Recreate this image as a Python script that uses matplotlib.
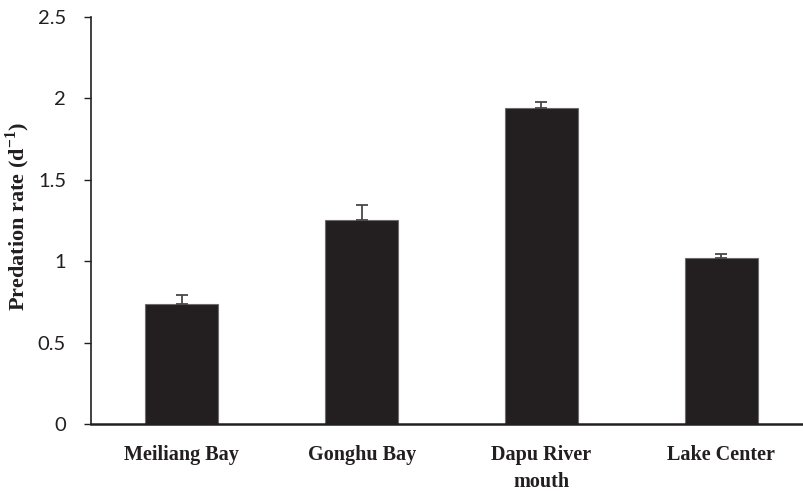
import matplotlib.pyplot as plt

plt.rcParams["mathtext.fontset"] = "custom"
plt.rcParams["mathtext.rm"] = "Liberation Serif:bold"
plt.rcParams["mathtext.bf"] = "Liberation Serif:bold"

sites = ["Meiliang Bay", "Gonghu Bay", "Dapu River\nmouth", "Lake Center"]
predation = [0.735, 1.25, 1.94, 1.017]
errors = [0.06, 0.094, 0.037, 0.025]
yticks = [0, 0.5, 1, 1.5, 2, 2.5]
ytick_labels = ["0", "0.5", "1", "1.5", "2", "2.5"]

fig = plt.figure(figsize=(8.04, 4.91), dpi=100)
ax = fig.add_axes([0.1132, 0.1365, 0.8868, 0.8289])

x = range(len(sites))
ax.bar(x, predation, width=0.406, color="#231f20", edgecolor="#6e6b6c",
       linewidth=0.8, zorder=2)
ax.errorbar(x, predation, yerr=[[0] * len(errors), errors], fmt="none",
            ecolor="#4a4748", elinewidth=1.3, capsize=4, capthick=1.3, zorder=3)

ax.set_xlim(-0.505, 3.46)
ax.set_ylim(0, 2.5)
ax.set_yticks(yticks)
ax.set_yticklabels(ytick_labels, fontfamily="Lato", fontsize=14.5, color="#231f20")
ax.set_xticks(list(x))
ax.set_xticklabels(sites, fontfamily="Liberation Serif", fontweight="bold",
                   fontsize=14.5, color="#231f20", linespacing=1.45)
ax.tick_params(axis="x", length=0, pad=15)
ax.tick_params(axis="y", length=5, width=1, color="#231f20", pad=13)

ax.set_ylabel("Predation rate (d$^{\\mathrm{-1}}$)", fontfamily="Liberation Serif",
              fontweight="bold", fontsize=16, color="#231f20")
ax.yaxis.set_label_coords(-0.083, 0.51)

for side in ["top", "right"]:
    ax.spines[side].set_visible(False)
for side in ["left", "bottom"]:
    ax.spines[side].set_color("#231f20")
ax.spines["left"].set_linewidth(1.2)
ax.spines["bottom"].set_linewidth(1.8)

fig.savefig("out.png", dpi=100)
